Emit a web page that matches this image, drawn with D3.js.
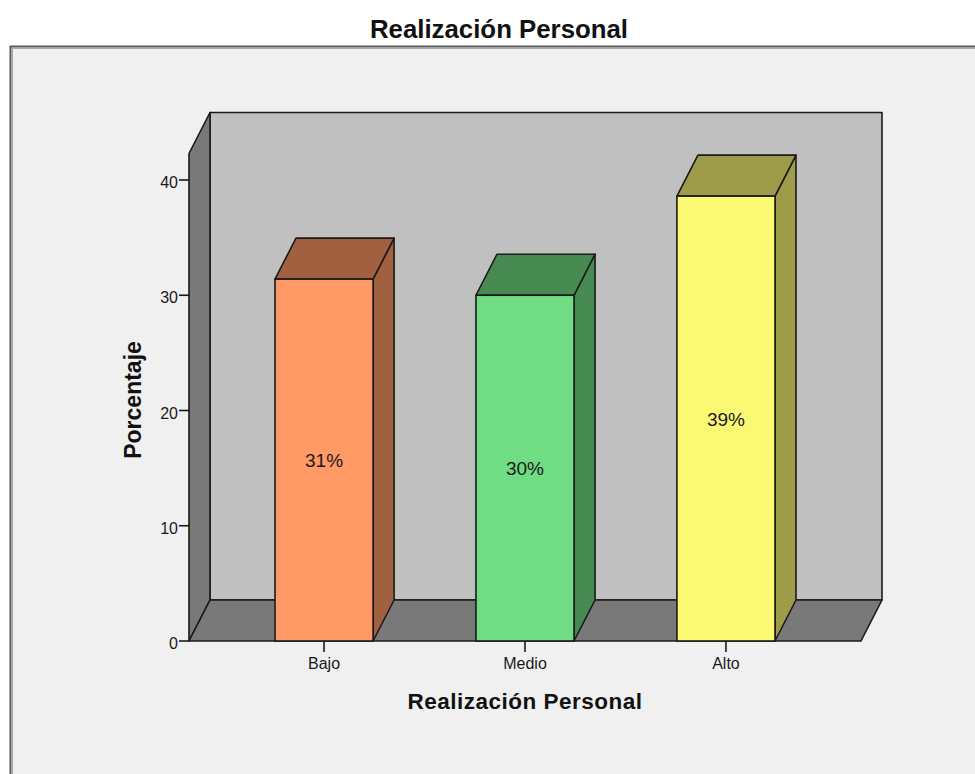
<!DOCTYPE html>
<html>
<head>
<meta charset="utf-8">
<script src="https://cdn.jsdelivr.net/npm/d3@7"></script>
<style>
  html, body { margin: 0; padding: 0; background: #ffffff; }
  svg { display: block; font-family: "Liberation Sans", Arial, sans-serif; }
</style>
</head>
<body>
<svg id="chart" width="975" height="774"></svg>
<script>
// Realización Personal — percentage per level
const categories = ["Bajo", "Medio", "Alto"];
const percentages = [31.4, 30.0, 38.6];
const frontColors = ["#ff9966", "#70dc84", "#fbf873"];
const yTicks = [0, 10, 20, 30, 40];
const chartTitle = "Realización Personal";
const xAxisTitle = "Realización Personal";
const yAxisTitle = "Porcentaje";

const W = 975, H = 774;
const depthX = 21, depthY = -41;   // 3D offset of the back plane
const shade = 0.63;                 // darkening for top and side faces

const svg = d3.select("#chart");

// outer panel
svg.append("rect").attr("x", 0).attr("y", 0).attr("width", W).attr("height", H).attr("fill", "#ffffff");
svg.append("rect").attr("x", 10.5).attr("y", 46.5).attr("width", W + 20).attr("height", H + 20)
  .attr("fill", "#f0f0f0").attr("stroke", "#5a5a5a").attr("stroke-width", 2);
svg.append("rect").attr("x", 12.5).attr("y", 48.5).attr("width", W + 20).attr("height", H + 20)
  .attr("fill", "none").attr("stroke", "#a8a8a8").attr("stroke-width", 1);

// scales
const y = d3.scaleLinear().domain([0, 40]).range([641, 180]);
const yTop = 42.3;
const x = d3.scaleBand().domain(categories).range([189, 861])
  .paddingInner(0.512).paddingOuter(0.428);

const x0 = x.range()[0], x1 = x.range()[1];
const y0 = y(0), yT = y(yTop);

const darker = c => { const r = d3.rgb(c); return d3.rgb(r.r * shade, r.g * shade, r.b * shade).toString(); };
const wallFront = "#c0c0c0";
const wallSide = darker(wallFront);
const edge = "#1a1a1a";
const poly = pts => "M" + pts.map(p => p.join(",")).join("L") + "Z";

const g = svg.append("g");

// back wall
g.append("path").attr("d", poly([[x0 + depthX, y0 + depthY], [x1 + depthX, y0 + depthY], [x1 + depthX, yT + depthY], [x0 + depthX, yT + depthY]]))
  .attr("fill", wallFront).attr("stroke", edge).attr("stroke-width", 1.6).attr("stroke-linejoin", "round");
// left wall
g.append("path").attr("d", poly([[x0, y0], [x0, yT], [x0 + depthX, yT + depthY], [x0 + depthX, y0 + depthY]]))
  .attr("fill", wallSide).attr("stroke", edge).attr("stroke-width", 1.6).attr("stroke-linejoin", "round");
// floor
g.append("path").attr("d", poly([[x0, y0], [x1, y0], [x1 + depthX, y0 + depthY], [x0 + depthX, y0 + depthY]]))
  .attr("fill", wallSide).attr("stroke", edge).attr("stroke-width", 1.6).attr("stroke-linejoin", "round");

// bars
const data = categories.map((c, i) => ({ cat: c, value: percentages[i], color: frontColors[i] }));
const bw = x.bandwidth();
const bars = g.selectAll("g.bar").data(data).join("g").attr("class", "bar");

bars.append("path") // right side face
  .attr("d", d => { const l = x(d.cat) + bw, t = y(d.value);
    return poly([[l, y0], [l, t], [l + depthX, t + depthY], [l + depthX, y0 + depthY]]); })
  .attr("fill", d => darker(d.color)).attr("stroke", edge).attr("stroke-width", 1.6).attr("stroke-linejoin", "round");
bars.append("path") // top face
  .attr("d", d => { const l = x(d.cat), t = y(d.value);
    return poly([[l, t], [l + bw, t], [l + bw + depthX, t + depthY], [l + depthX, t + depthY]]); })
  .attr("fill", d => darker(d.color)).attr("stroke", edge).attr("stroke-width", 1.6).attr("stroke-linejoin", "round");
bars.append("rect") // front face
  .attr("x", d => x(d.cat)).attr("y", d => y(d.value))
  .attr("width", bw).attr("height", d => y0 - y(d.value))
  .attr("fill", d => d.color).attr("stroke", edge).attr("stroke-width", 1.6);

// value labels
const fmt = d3.format(".0f");
bars.append("text")
  .attr("x", d => x(d.cat) + bw / 2)
  .attr("y", d => (y(d.value) + y0) / 2 + 7)
  .attr("text-anchor", "middle")
  .attr("font-size", 19).attr("fill", "#1a1a1a")
  .text(d => fmt(d.value) + "%");

// y axis ticks
const yAxis = g.append("g");
yAxis.selectAll("line").data(yTicks).join("line")
  .attr("x1", x0 - 10).attr("x2", x0).attr("y1", d => y(d)).attr("y2", d => y(d))
  .attr("stroke", edge).attr("stroke-width", 1.6);
yAxis.selectAll("text").data(yTicks).join("text")
  .attr("x", x0 - 11).attr("y", d => y(d) + 8)
  .attr("text-anchor", "end").attr("font-size", 16).attr("fill", "#1a1a1a")
  .text(d => d);

// x axis ticks
const xAxis = g.append("g");
xAxis.selectAll("line").data(categories).join("line")
  .attr("x1", d => x(d) + bw / 2).attr("x2", d => x(d) + bw / 2)
  .attr("y1", y0).attr("y2", y0 + 11)
  .attr("stroke", edge).attr("stroke-width", 1.6);
xAxis.selectAll("text").data(categories).join("text")
  .attr("x", d => x(d) + bw / 2).attr("y", y0 + 28)
  .attr("text-anchor", "middle").attr("font-size", 16).attr("fill", "#1a1a1a")
  .text(d => d);

// titles
svg.append("text").attr("x", 499).attr("y", 38).attr("text-anchor", "middle")
  .attr("font-size", 25.8).attr("font-weight", "bold").attr("fill", "#111").text(chartTitle);
svg.append("text").attr("x", 525).attr("y", 709).attr("text-anchor", "middle")
  .attr("font-size", 22.5).attr("font-weight", "bold").attr("letter-spacing", 0.5).attr("fill", "#111").text(xAxisTitle);
svg.append("text").attr("transform", "translate(141,400) rotate(-90)").attr("text-anchor", "middle")
  .attr("font-size", 23).attr("font-weight", "bold").attr("fill", "#111").text(yAxisTitle);
</script>
</body>
</html>
